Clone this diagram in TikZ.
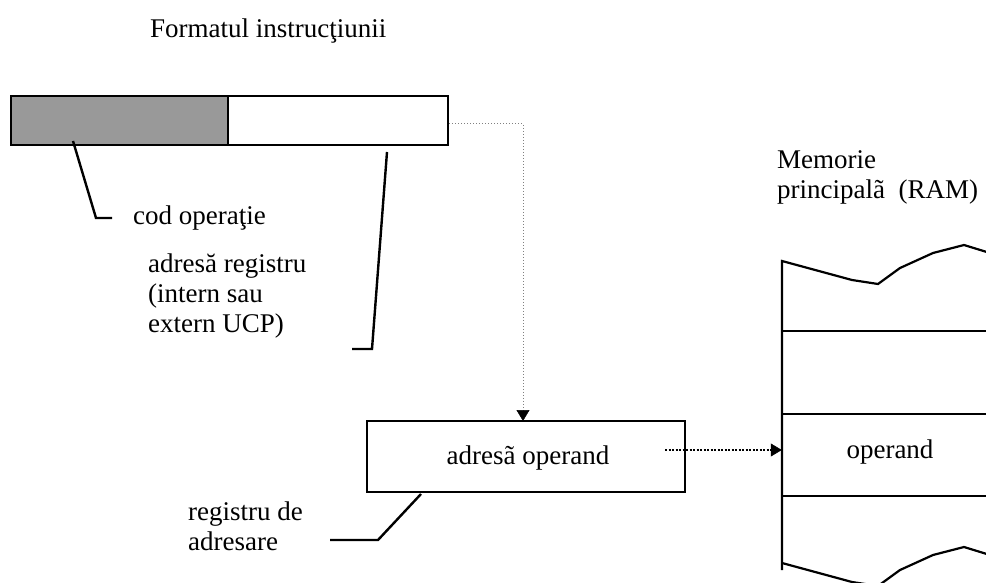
\documentclass[tikz,border=0pt]{standalone}
\usepackage{fontspec}
\setmainfont{Liberation Serif}
\usetikzlibrary{arrows.meta,calc}
\definecolor{barfill}{RGB}{153,153,153}
\begin{document}
\begin{tikzpicture}[x=1pt,y=-1pt,
  every node/.style={font=\fontsize{27}{30}\selectfont, inner sep=0pt},
  cell/.style={draw=black, line width=2.6pt, minimum height=49pt},
  lbl/.style={anchor=west, align=left},
  leader/.style={line width=2.4pt},
  memline/.style={line width=2.2pt},
  greydots/.style={draw=gray, line width=1pt, dotted},
  blackdots/.style={line width=2.2pt, dash pattern=on 2pt off 1.5pt},
  tip/.style={-{Triangle[width=13pt,length=11pt,color=black,fill=black,line width=0.5pt]}}]
\useasboundingbox (0,0) rectangle (986,583);

% title
\node[lbl] (title) at (150,31) {Formatul instrucţiunii};

% instruction format: operation code field and register address field
\node[cell, fill=barfill, minimum width=217pt] (opcode) at (119.5,120.5) {};
\node[cell, fill=white, minimum width=220pt] (addr) at (338,120.5) {};

% labels of the two fields
\node[lbl] (codlbl) at (133,218) {cod operaţie};
\node[lbl] (reglbl) at (148,296) {adresă registru\\(intern sau\\extern UCP)};
\coordinate (c1) at (73,141);
\coordinate (c2) at (96,218);
\coordinate (c3) at (112,218);
\draw[leader] (c1) -- (c2) -- (c3);
\coordinate (r1) at (387,152);
\coordinate (r2) at (372,349);
\coordinate (r3) at (352,349);
\draw[leader] (r1) -- (r2) -- (r3);

% addressing register
\node[draw, line width=2.4pt, minimum width=318pt, minimum height=71pt] (areg) at (526,456.5) {};
\node (aregtxt) at (528,458) {adresã operand};
\node[lbl] (areglbl) at (188,526) {registru de\\adresare};
\coordinate (a1) at (421,494);
\coordinate (a2) at (378,540);
\coordinate (a3) at (330,540);
\draw[leader] (a1) -- (a2) -- (a3);

% main memory
\node[lbl] (memlbl) at (777,177) {Memorie\\principalã\ \ (RAM)};
\draw[memline] (782,570) -- (782,261)
  -- (852,280) -- (878,284) -- (900,268) -- (933,253) -- (964,245) -- (990,253);
\draw[memline] (782,563)
  -- (852,582) -- (878,586) -- (900,570) -- (933,555) -- (964,547) -- (990,555);
\draw[memline] (782,331) -- (990,331);
\draw[memline] (782,414) -- (990,414);
\draw[memline] (782,496) -- (990,496);
\node[minimum width=208pt, minimum height=82pt] (opcell) at (886,455) {};
\node (optxt) at (890,452) {operand};

% address paths
\coordinate (d1) at (665,450);
\coordinate (t1) at (523,421);
\draw[greydots, tip] ($(addr.east)+(0,3)$) -| (t1);
\draw[blackdots, tip] (d1) -- (opcell.west |- d1);
\end{tikzpicture}
\end{document}
